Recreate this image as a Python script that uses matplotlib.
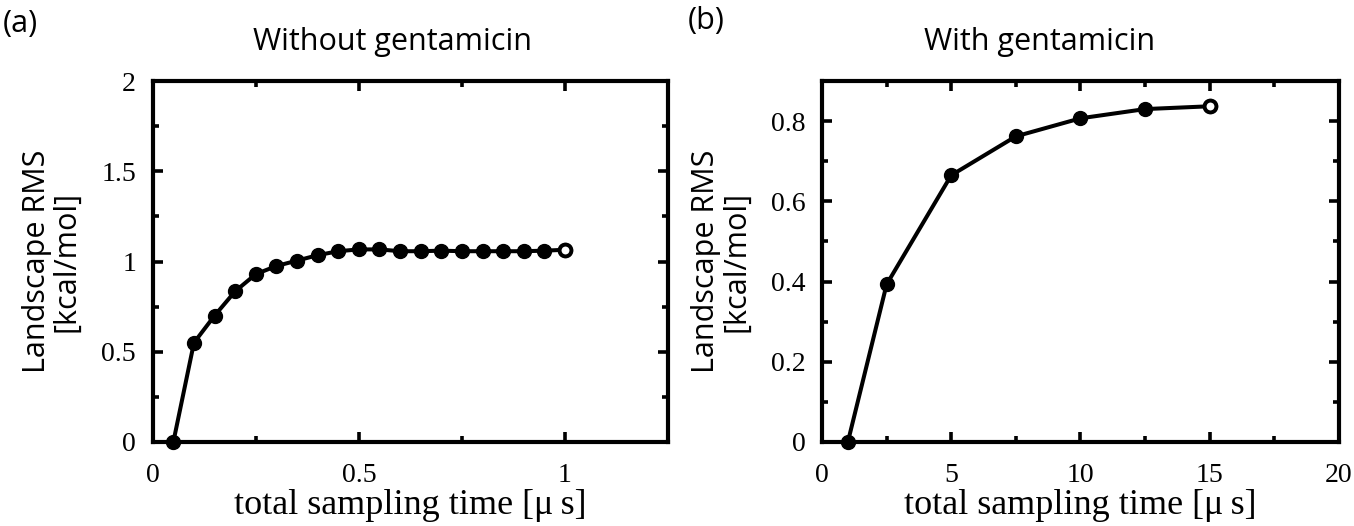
import matplotlib
matplotlib.use("Agg")
import matplotlib.pyplot as plt
from matplotlib.ticker import MultipleLocator

# данные панели (a) - без гентамицина
time_a = [0.05, 0.1, 0.15, 0.2, 0.25, 0.3, 0.35, 0.4, 0.45, 0.5,
          0.55, 0.6, 0.65, 0.7, 0.75, 0.8, 0.85, 0.9, 0.95, 1.0]
rms_a = [0.0, 0.55, 0.70, 0.835, 0.93, 0.975, 1.005, 1.035, 1.057, 1.067,
         1.067, 1.057, 1.057, 1.06, 1.057, 1.057, 1.057, 1.057, 1.06, 1.065]

# данные панели (b) - с гентамицином
time_b = [1.0, 2.5, 5.0, 7.5, 10.0, 12.5, 15.0]
rms_b = [0.0, 0.393, 0.665, 0.762, 0.807, 0.83, 0.837]

titles = ["Without gentamicin", "With gentamicin"]
letters = ["(a)", "(b)"]
ylabel = "Landscape RMS\n[kcal/mol]"
xlabel = "total sampling time [\u03bc\u2009s]"

serif = ["Liberation Serif", "DejaVu Serif"]
sans = ["Open Sans", "DejaVu Sans"]

fig = plt.figure(figsize=(13.54, 5.26), dpi=100)
ax_a = fig.add_axes([0.1128, 0.1597, 0.3806, 0.6863])
ax_b = fig.add_axes([0.6071, 0.1597, 0.3818, 0.6863])


def draw(ax, xs, ys):
    # линия с заполненными кружками, последняя точка - пустой кружок
    ax.plot(xs, ys, color="black", lw=2.9, marker="o", ms=10,
            mfc="black", mec="black", zorder=3, clip_on=False)
    ax.plot(xs[-1:], ys[-1:], ls="none", marker="o", ms=8.5, mfc="white",
            mec="black", mew=2.8, zorder=4)
    for s in ax.spines.values():
        s.set_linewidth(3)
    ax.tick_params(which="both", direction="in", top=True, right=True,
                   width=2.6, labelsize=20, pad=12)
    ax.tick_params(axis="x", pad=15)
    ax.tick_params(which="major", length=7)
    ax.tick_params(which="minor", length=4)
    ax.set_xlabel(xlabel, family=serif, fontsize=26, labelpad=1)
    ax.set_ylabel(ylabel, family=sans, fontsize=22, labelpad=14,
                  linespacing=1.0)


draw(ax_a, time_a, rms_a)
ax_a.set_xlim(0, 1.25)
ax_a.set_ylim(0, 2)
ax_a.xaxis.set_minor_locator(MultipleLocator(0.25))
ax_a.yaxis.set_minor_locator(MultipleLocator(0.25))
ax_a.set_xticks([0, 0.5, 1])
ax_a.set_xticklabels(["0", "0.5", "1"], family=serif)
ax_a.set_yticks([0, 0.5, 1, 1.5, 2])
ax_a.set_yticklabels(["0", "0.5", "1", "1.5", "2"], family=serif)

draw(ax_b, time_b, rms_b)
ax_b.set_xlim(0, 20)
ax_b.set_ylim(0, 0.9)
ax_b.xaxis.set_minor_locator(MultipleLocator(2.5))
ax_b.yaxis.set_minor_locator(MultipleLocator(0.1))
ax_b.set_xticks([0, 5, 10, 15, 20])
ax_b.set_xticklabels(["0", "5", "10", "15", "20"], family=serif)
ax_b.set_yticks([0, 0.2, 0.4, 0.6, 0.8])
ax_b.set_yticklabels(["0", "0.2", "0.4", "0.6", "0.8"], family=serif)

# подписи панелей и заголовки
fig.text(0.002, 0.955, letters[0], family=sans, fontsize=22, va="center")
fig.text(0.29, 0.92, titles[0], family=sans, fontsize=22, ha="center", va="center")
fig.text(0.508, 0.96, letters[1], family=sans, fontsize=22, va="center")
fig.text(0.768, 0.92, titles[1], family=sans, fontsize=22, ha="center", va="center")

fig.savefig("out.png", dpi=100)
